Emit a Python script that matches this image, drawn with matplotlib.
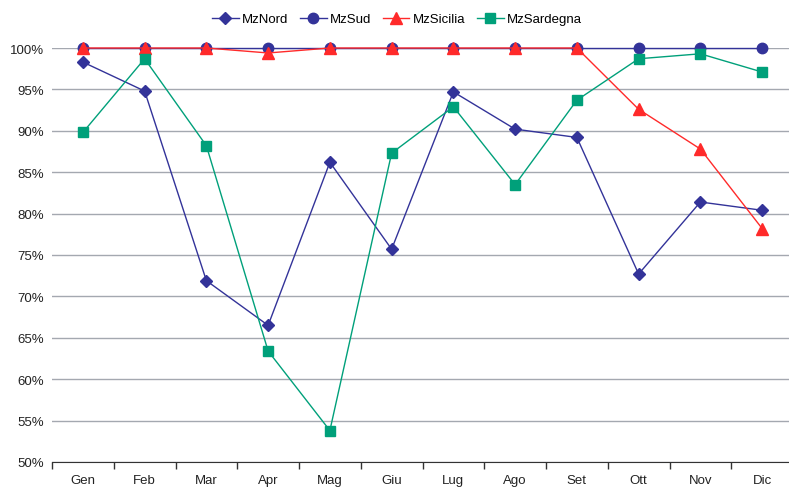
import numpy as np
import matplotlib.pyplot as plt
from matplotlib.ticker import PercentFormatter

plt.rcParams['font.family'] = ['Liberation Sans', 'DejaVu Sans']

mesi = ["Gen", "Feb", "Mar", "Apr", "Mag", "Giu", "Lug", "Ago", "Set", "Ott", "Nov", "Dic"]
mz_nord = [98.3, 94.8, 71.9, 66.5, 86.2, 75.7, 94.7, 90.2, 89.2, 72.7, 81.4, 80.4]
mz_sud = [100, 100, 100, 100, 100, 100, 100, 100, 100, 100, 100, 100]
mz_sicilia = [100, 100, 100, 99.4, 100, 100, 100, 100, 100, 92.6, 87.8, 78.2]
mz_sardegna = [89.8, 98.7, 88.2, 63.4, 53.8, 87.3, 92.9, 83.5, 93.7, 98.7, 99.3, 97.1]

x = np.arange(len(mesi))

fig = plt.figure(figsize=(7.89, 4.89), dpi=100)
ax = fig.add_axes([52 / 789, 1 - 463 / 489, 741 / 789, (463 - 49) / 489])

navy = "#333399"
series = [
    ("MzNord", mz_nord, navy, "D", 6),
    ("MzSud", mz_sud, navy, "o", 7.5),
    ("MzSicilia", mz_sicilia, "#ff2a2a", "^", 8),
    ("MzSardegna", mz_sardegna, "#00a07a", "s", 7.5),
]
for name, vals, col, mk, ms in series:
    ax.plot(x, vals, color=col, lw=1, marker=mk, ms=ms, mec=col, mfc=col,
            label=name, clip_on=False, zorder=3)

ax.set_xlim(-0.5, len(mesi) - 0.5)
ax.set_ylim(50, 100)
ax.set_yticks(np.arange(50, 101, 5))
ax.yaxis.set_major_formatter(PercentFormatter(decimals=0))
ax.grid(axis="y", color="#a4a8b0", lw=1)
ax.set_axisbelow(True)

# category labels centred, ticks on the boundaries
ax.set_xticks(np.arange(-0.5, len(mesi), 1))
ax.set_xticklabels([])
ax.set_xticks(x, minor=True)
ax.set_xticklabels(mesi, minor=True)
ax.tick_params(axis="x", which="major", length=5, width=1, color="#333333", direction="out")
ax.tick_params(axis="x", which="minor", length=0, pad=9, labelsize=9.5, labelcolor="#222222")
ax.tick_params(axis="y", length=0, pad=6, labelsize=9.5, labelcolor="#222222")

for s in ["left", "right", "top"]:
    ax.spines[s].set_visible(False)
ax.spines["bottom"].set_color("#333333")

fig.legend(loc="center", bbox_to_anchor=(397 / 789, 1 - 20 / 489), ncol=4, frameon=False,
           fontsize=9.5, handlelength=2.0, columnspacing=0.9, handletextpad=0.25)

fig.savefig("out.png", dpi=100)
